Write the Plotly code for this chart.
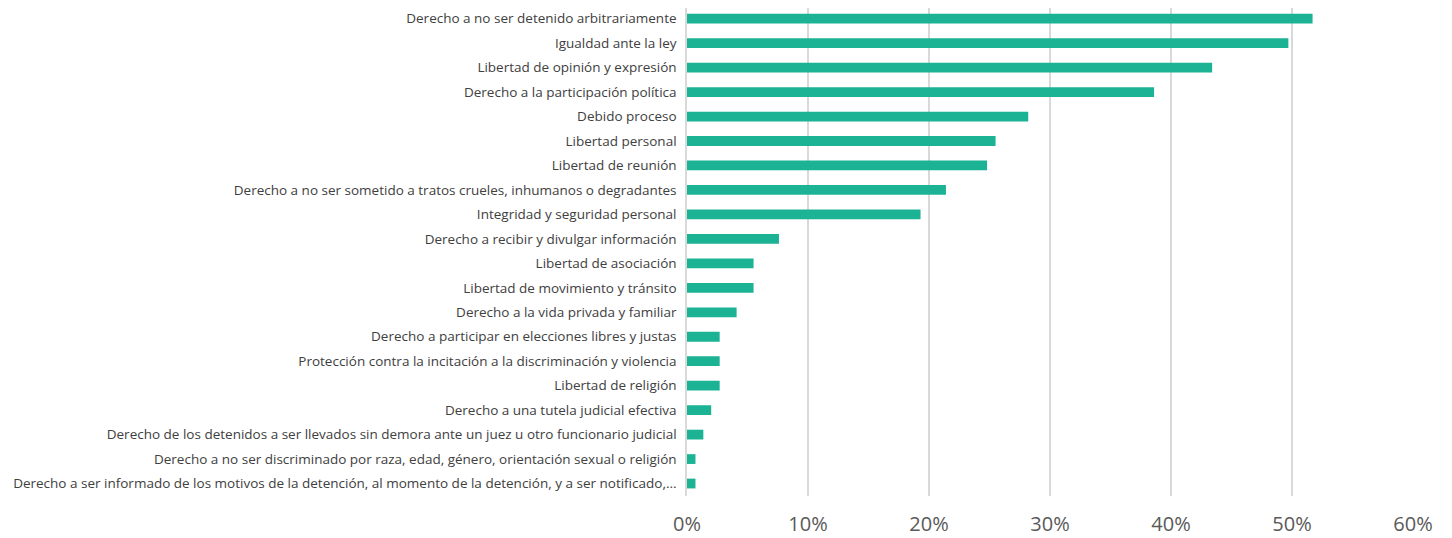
import plotly.graph_objects as go

categories = [
    "Derecho a no ser detenido arbitrariamente",
    "Igualdad ante la ley",
    "Libertad de opinión y expresión",
    "Derecho a la participación política",
    "Debido proceso",
    "Libertad personal",
    "Libertad de reunión",
    "Derecho a no ser sometido a tratos crueles, inhumanos o degradantes",
    "Integridad y seguridad personal",
    "Derecho a recibir y divulgar información",
    "Libertad de asociación",
    "Libertad de movimiento y tránsito",
    "Derecho a la vida privada y familiar",
    "Derecho a participar en elecciones libres y justas",
    "Protección contra la incitación a la discriminación y violencia",
    "Libertad de religión",
    "Derecho a una tutela judicial efectiva",
    "Derecho de los detenidos a ser llevados sin demora ante un juez u otro funcionario judicial",
    "Derecho a no ser discriminado por raza, edad, género, orientación sexual o religión",
    "Derecho a ser informado de los motivos de la detención, al momento de la detención, y a ser notificado,...",
]
values = [0.517, 0.497, 0.434, 0.386, 0.282, 0.255, 0.248, 0.214, 0.193, 0.076,
          0.055, 0.055, 0.041, 0.027, 0.027, 0.027, 0.020, 0.0135, 0.007, 0.007]
x_ticks = [0, 0.1, 0.2, 0.3, 0.4, 0.5, 0.6]
x_tick_labels = ["0%", "10%", "20%", "30%", "40%", "50%", "60%"]

fig = go.Figure(go.Bar(
    x=values, y=categories, orientation="h",
    marker=dict(color="#1bb394", line=dict(width=0)),
    hoverinfo="x+y",
))

fig.update_layout(
    width=1444, height=530,
    margin=dict(l=679, r=39, t=0, b=41.5, autoexpand=False),
    paper_bgcolor="white", plot_bgcolor="white",
    bargap=0.6,
    showlegend=False,
    font=dict(family="Open Sans, sans-serif", color="#404040"),
)
fig.update_xaxes(
    range=[0, 0.6], tickvals=x_ticks, ticktext=x_tick_labels,
    showgrid=True, gridcolor="#d9d9d9", gridwidth=1.5,
    zeroline=False, showline=False,
    tickfont=dict(size=20, color="#595959"),
    ticklabelstandoff=14,
    automargin=False,
)
fig.update_yaxes(
    range=[19.51, -0.437], showgrid=False, zeroline=False,
    showline=True, linecolor="#d9d9d9", linewidth=1.5,
    tickfont=dict(size=13.5, color="#404040"),
    ticklabelstandoff=6,
    automargin=False,
)

fig.write_html("out.html")
